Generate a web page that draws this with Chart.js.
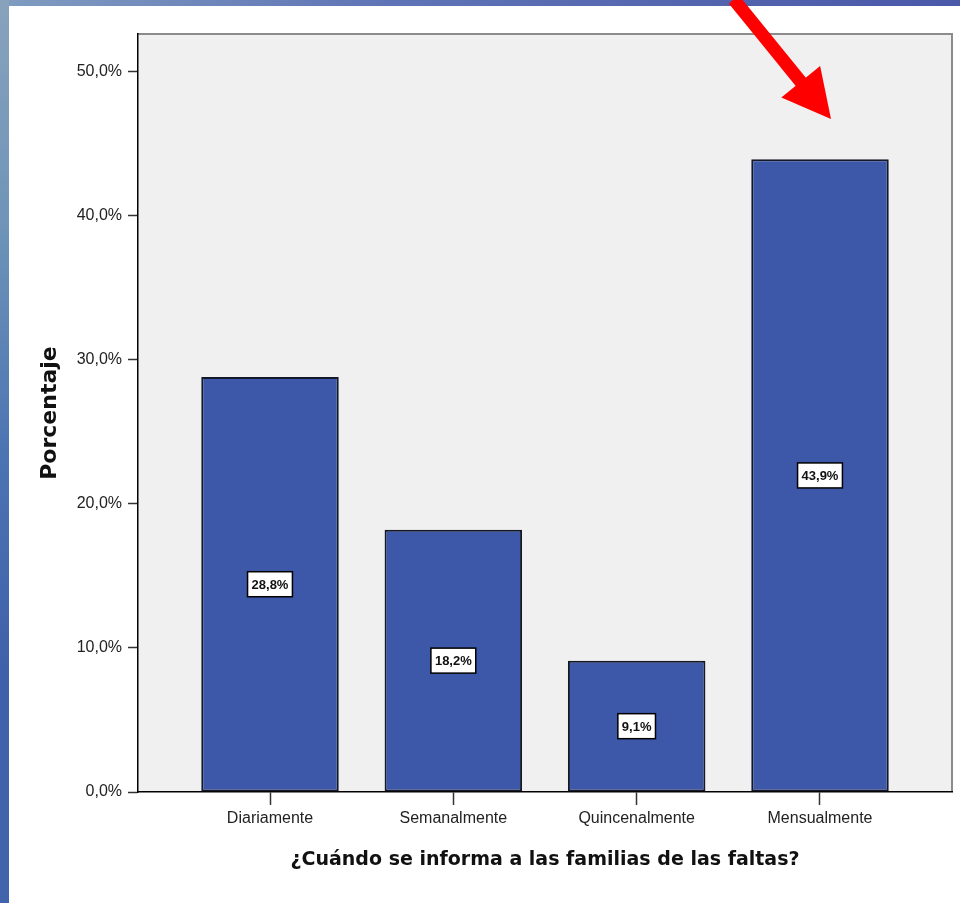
<!DOCTYPE html>
<html>
<head>
<meta charset="utf-8">
<script src="https://cdn.jsdelivr.net/npm/chart.js@4.4.1/dist/chart.umd.min.js"></script>
<style>
  html, body { margin: 0; padding: 0; background: #fff; }
  canvas { display: block; }
</style>
</head>
<body>
<canvas id="myChart" width="960" height="903"></canvas>
<script>
// frequency of reporting absences to families - SPSS style bar chart

var categories = ['Diariamente', 'Semanalmente', 'Quincenalmente', 'Mensualmente'];
var percentages = [28.8, 18.2, 9.1, 43.9];
var yTicks = [0, 10, 20, 30, 40, 50];
var yTitle = 'Porcentaje';
var xTitle = '¿Cuándo se informa a las familias de las faltas?';

// red arrow pointing at the last bar, in data units (x = category index, y = percent)
var arrowFrom = [2.53, 55];
var arrowTo = [3.06, 46.7];

function pct(v) {
    return v.toFixed(1).replace('.', ',') + '%';
}

var pagePlugin = {
    id: 'page',
    beforeDraw: function(chart) {
        var ctx = chart.ctx;
        var w = chart.width, h = chart.height;
        ctx.save();
        ctx.fillStyle = '#ffffff';
        ctx.fillRect(0, 0, w, h);
        // top strip of the slide background
        var g1 = ctx.createLinearGradient(0, 0, w, 0);
        g1.addColorStop(0, '#7f9cc0');
        g1.addColorStop(0.4, '#5f74b6');
        g1.addColorStop(1, '#4a58a8');
        ctx.fillStyle = g1;
        ctx.fillRect(0, 0, w, 6);
        // left strip
        var g2 = ctx.createLinearGradient(0, 0, 0, h);
        g2.addColorStop(0, '#88a2bc');
        g2.addColorStop(0.25, '#6f94b8');
        g2.addColorStop(0.5, '#4c74b2');
        g2.addColorStop(0.75, '#3f60aa');
        g2.addColorStop(1, '#4264ac');
        ctx.fillStyle = g2;
        ctx.fillRect(0, 0, 9, h);
        // plot area background
        var a = chart.chartArea;
        ctx.fillStyle = '#f0f0f0';
        ctx.fillRect(a.left, a.top, a.right - a.left, a.bottom - a.top);
        ctx.strokeStyle = '#8c8c8c';
        ctx.lineWidth = 2;
        ctx.beginPath();
        ctx.moveTo(a.left, a.top);
        ctx.lineTo(a.right, a.top);
        ctx.lineTo(a.right, a.bottom);
        ctx.stroke();
        ctx.restore();
    },
    afterDatasetsDraw: function(chart) {
        var ctx = chart.ctx;
        var meta = chart.getDatasetMeta(0);
        ctx.save();
        ctx.font = 'bold 13px "Liberation Sans", Arial, sans-serif';
        ctx.textAlign = 'center';
        ctx.textBaseline = 'middle';
        meta.data.forEach(function(bar, i) {
            var txt = pct(percentages[i]);
            var cy = (bar.y + bar.base) / 2;
            var bw = ctx.measureText(txt).width + 8;
            var bh = 25;
            ctx.fillStyle = '#ffffff';
            ctx.fillRect(bar.x - bw / 2, cy - bh / 2, bw, bh);
            ctx.strokeStyle = '#000000';
            ctx.lineWidth = 1.5;
            ctx.strokeRect(bar.x - bw / 2, cy - bh / 2, bw, bh);
            ctx.fillStyle = '#111111';
            ctx.fillText(txt, bar.x, cy + 1);
        });
        ctx.restore();
    },
    afterDraw: function(chart) {
        var ctx = chart.ctx;
        var xs = chart.scales.x, ys = chart.scales.y;
        var x0 = xs.getPixelForValue(arrowFrom[0]), y0 = ys.getPixelForValue(arrowFrom[1]);
        var x1 = xs.getPixelForValue(arrowTo[0]), y1 = ys.getPixelForValue(arrowTo[1]);
        var ang = Math.atan2(y1 - y0, x1 - x0);
        var headLen = 48, headW = 25;
        var bx = x1 - headLen * Math.cos(ang), by = y1 - headLen * Math.sin(ang);
        ctx.save();
        ctx.strokeStyle = '#ff0000';
        ctx.fillStyle = '#ff0000';
        ctx.lineWidth = 13;
        ctx.beginPath();
        ctx.moveTo(x0, y0);
        ctx.lineTo(bx + 4 * Math.cos(ang), by + 4 * Math.sin(ang));
        ctx.stroke();
        ctx.beginPath();
        ctx.moveTo(x1, y1);
        ctx.lineTo(bx + headW * Math.sin(ang), by - headW * Math.cos(ang));
        ctx.lineTo(bx - headW * Math.sin(ang), by + headW * Math.cos(ang));
        ctx.closePath();
        ctx.fill();
        ctx.restore();
    }
};

var config = {
    type: 'bar',
    data: {
        datasets: [{
            data: percentages.map(function(v, i) { return {x: i, y: v}; }),
            backgroundColor: '#3d58a9',
            borderColor: '#151829',
            borderWidth: 2,
            borderSkipped: false,
            categoryPercentage: 1,
            barPercentage: 0.75
        }]
    },
    options: {
        responsive: false,
        devicePixelRatio: 1,
        animation: false,
        layout: {
            padding: {left: 0, top: 34, right: 8, bottom: 0}
        },
        plugins: {
            legend: {display: false},
            tooltip: {enabled: false}
        },
        scales: {
            x: {
                type: 'linear',
                min: -0.72,
                max: 3.72,
                offset: false,
                afterBuildTicks: function(scale) {
                    scale.ticks = categories.map(function(c, i) { return {value: i}; });
                },
                afterFit: function(scale) { scale.height = 111; },
                ticks: {
                    callback: function(v) { return categories[v]; },
                    font: {family: '"Liberation Sans", Arial, sans-serif', size: 16},
                    color: '#222',
                    padding: 4,
                    maxRotation: 0,
                    autoSkip: false
                },
                grid: {
                    offset: false,
                    drawOnChartArea: false,
                    drawTicks: true,
                    tickLength: 13,
                    tickColor: '#333',
                    tickWidth: 1.5
                },
                border: {display: true, color: '#000', width: 1.5},
                title: {
                    display: true,
                    text: xTitle,
                    color: '#111',
                    font: {family: '"DejaVu Sans", Verdana, sans-serif', size: 19, weight: 'bold'},
                    padding: {top: 0, bottom: 32}
                }
            },
            y: {
                min: 0,
                max: 52.6,
                afterBuildTicks: function(scale) {
                    scale.ticks = yTicks.map(function(v) { return {value: v}; });
                },
                afterFit: function(scale) { scale.width = 138; },
                ticks: {
                    callback: function(v) { return pct(v); },
                    font: {family: '"Liberation Sans", Arial, sans-serif', size: 16},
                    color: '#222',
                    padding: 6
                },
                grid: {
                    drawOnChartArea: false,
                    drawTicks: true,
                    tickLength: 10,
                    tickColor: '#333',
                    tickWidth: 1.5
                },
                border: {display: true, color: '#000', width: 1.5},
                title: {
                    display: true,
                    text: yTitle,
                    color: '#111',
                    font: {family: '"DejaVu Sans", Verdana, sans-serif', size: 22, weight: 'bold'},
                    padding: {top: 37, bottom: 0}
                }
            }
        }
    },
    plugins: [pagePlugin]
};

window.onload = function() {
    var ctx = document.getElementById('myChart').getContext('2d');
    window.myBar = new Chart(ctx, config);
};
</script>
</body>
</html>
